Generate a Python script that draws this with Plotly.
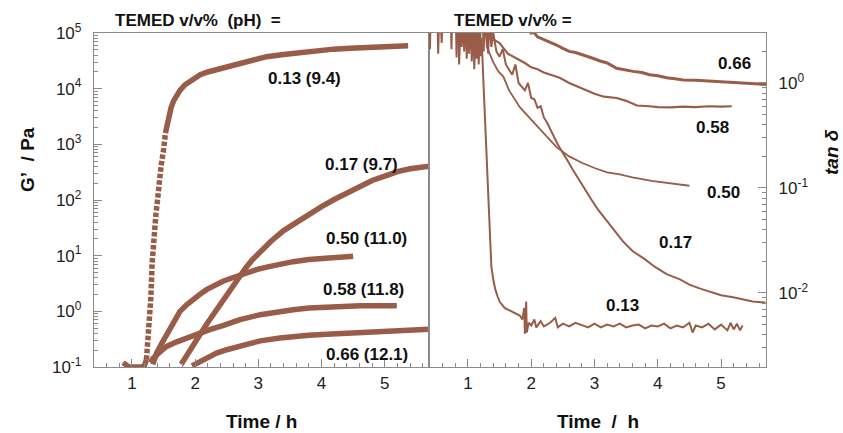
import plotly.graph_objects as go

# ---------------- data ----------------
# Left panel: storage modulus G' (Pa) vs time (h), one series per TEMED v/v% (pH)
t_g13 = [0.86, 0.95, 1.05, 1.15, 1.20, 1.23, 1.27, 1.30, 1.32, 1.35, 1.38, 1.41, 1.43, 1.46, 1.50,
         1.53, 1.585, 1.62, 1.66, 1.71, 1.76, 1.84, 1.92, 2.0, 2.08, 2.2, 2.3, 2.4, 2.6, 2.8,
         3.13, 3.4, 3.66, 3.9, 4.19, 4.45, 4.71, 5.0, 5.37]
g13 = [0.12, 0.10, 0.10, 0.10, 0.107, 0.135, 0.47, 1.8, 7.4, 25, 56, 112, 200, 398, 794,
       1585, 3160, 4570, 6030, 7760, 9330, 11750, 13800, 15850, 17800, 19950, 21400, 23400, 26900, 31600,
       37600, 41200, 44700, 47900, 51300, 53100, 55000, 56900, 58900]

t_g17 = [1.78, 1.90, 2.0, 2.1, 2.2, 2.3, 2.4, 2.5, 2.6, 2.7, 2.8, 2.9, 3.0, 3.2, 3.4, 3.6, 3.8,
         4.0, 4.2, 4.4, 4.6, 4.8, 5.0, 5.2, 5.4, 5.72]
g17 = [0.112, 0.19, 0.28, 0.42, 0.63, 0.93, 1.38, 2.0, 2.95, 4.27, 6.0, 8.3, 11.0, 18.2, 28.2, 39.8, 55,
       75.9, 102, 135, 178, 224, 269, 324, 363, 407]

t_g50 = [1.33, 1.39, 1.47, 1.55, 1.65, 1.76, 1.87, 1.97, 2.08, 2.18, 2.30, 2.44, 2.56, 2.66, 2.80,
         2.97, 3.15, 3.34, 3.55, 3.80, 4.08, 4.30, 4.50]
g50 = [0.112, 0.178, 0.263, 0.37, 0.63, 1.0, 1.32, 1.66, 2.04, 2.45, 2.95, 3.47, 3.89, 4.27, 4.9,
       5.6, 6.3, 7.1, 7.8, 8.5, 9.1, 9.4, 9.8]

t_g58 = [1.30, 1.33, 1.45, 1.55, 1.70, 1.86, 2.05, 2.23, 2.45, 2.71, 3.03, 3.34, 3.55, 3.80, 4.08,
         4.35, 4.61, 4.90, 5.19]
g58 = [0.12, 0.141, 0.19, 0.234, 0.28, 0.33, 0.40, 0.47, 0.56, 0.71, 0.87, 1.0, 1.07, 1.15, 1.20,
       1.23, 1.26, 1.26, 1.26]

t_g66 = [1.95, 2.05, 2.20, 2.34, 2.50, 2.71, 3.03, 3.34, 3.55, 3.80, 4.08, 4.35, 4.61, 4.90, 5.13,
         5.40, 5.72]
g66 = [0.105, 0.12, 0.148, 0.178, 0.204, 0.234, 0.295, 0.331, 0.355, 0.372, 0.389, 0.403, 0.417,
       0.431, 0.447, 0.462, 0.479]

# Right panel: tan delta vs time (h)
t_d13 = [0.38, 0.40, 0.41, 0.52, 0.53, 0.545, 0.57, 0.585, 0.60, 0.73, 0.74, 0.75, 0.81, 0.82, 0.83,
         0.85, 0.86, 0.875, 0.89, 0.90, 0.915, 0.93, 0.94, 0.955, 0.97, 0.98, 0.995, 1.01, 1.02, 1.035,
         1.05, 1.06, 1.075, 1.09, 1.10, 1.115, 1.13, 1.14, 1.155, 1.165, 1.17, 1.185, 1.195, 1.20,
         1.216, 1.25, 1.295, 1.32, 1.345, 1.37, 1.40, 1.43, 1.47, 1.505, 1.58, 1.66, 1.75, 1.82,
         1.86, 1.89, 1.90, 1.92, 1.93, 1.96, 2.00, 2.05, 2.08, 2.15, 2.20, 2.30, 2.38, 2.42, 2.50,
         2.60, 2.70, 2.80, 2.90, 3.00, 3.10, 3.20, 3.30, 3.40, 3.50, 3.60, 3.70, 3.80, 3.90, 4.00,
         4.10, 4.20, 4.30, 4.40, 4.50, 4.55, 4.60, 4.70, 4.80, 4.90, 5.00, 5.10, 5.15, 5.20, 5.25,
         5.30, 5.34]
d13 = [4.0, 2.1, 4.0, 4.0, 1.9, 4.0, 4.0, 2.4, 4.0, 4.0, 2.1, 4.0, 4.0, 1.75, 4.0,
       4.0, 1.5, 4.0, 4.0, 2.2, 4.0, 4.0, 2.0, 4.0, 4.0, 1.7, 4.0, 4.0, 1.9, 4.0,
       4.0, 1.6, 4.0, 4.0, 1.35, 4.0, 4.0, 1.7, 4.0, 4.0, 1.5, 4.0, 4.0, 1.8,
       2.7, 0.87, 0.195, 0.068, 0.032, 0.018, 0.0135, 0.011, 0.0092, 0.0082, 0.0072, 0.0068, 0.0063, 0.0061,
       0.0056, 0.0072, 0.0041, 0.0083, 0.0042, 0.0052, 0.0049, 0.0056, 0.0047, 0.0054, 0.0048, 0.0052, 0.0058, 0.0047, 0.0051,
       0.0048, 0.0052, 0.0049, 0.0047, 0.0051, 0.0047, 0.0050, 0.0048, 0.0051, 0.0047, 0.0049, 0.0050, 0.0046, 0.0049, 0.0048,
       0.0051, 0.0046, 0.0049, 0.0047, 0.0052, 0.0042, 0.0049, 0.0047, 0.0051, 0.0045, 0.0050, 0.0044, 0.0052, 0.0045, 0.0051,
       0.0044, 0.0049]

t_d17 = [1.28, 1.30, 1.32, 1.34, 1.37, 1.40, 1.45, 1.50, 1.55, 1.60, 1.70, 1.75, 1.80, 1.90, 1.95,
         2.00, 2.05, 2.10, 2.15, 2.20, 2.25, 2.30, 2.35, 2.42, 2.50, 2.58, 2.66, 2.75, 2.85, 2.95,
         3.05, 3.15, 3.30, 3.45, 3.60, 3.80, 3.95, 4.14, 4.35, 4.50, 4.67, 4.85, 5.00, 5.19, 5.35,
         5.50, 5.70]
d17 = [4.0, 4.0, 1.9, 4.0, 2.2, 3.0, 2.0, 1.78, 2.1, 1.5, 1.2, 1.5, 1.0, 0.85, 1.0,
       0.72, 0.70, 0.58, 0.60, 0.47, 0.42, 0.37, 0.316, 0.26, 0.219, 0.18, 0.148, 0.12, 0.0955, 0.0776,
       0.063, 0.0525, 0.0398, 0.031, 0.0251, 0.0209, 0.0178, 0.0151, 0.0135, 0.0120, 0.0110, 0.0102, 0.0095, 0.0091, 0.0087,
       0.0083, 0.0081]

t_d50 = [1.20, 1.23, 1.25, 1.27, 1.30, 1.40, 1.48, 1.56, 1.65, 1.82, 2.00, 2.20, 2.40, 2.60, 2.80,
         3.00, 3.20, 3.40, 3.60, 3.90, 4.20, 4.50]
d50 = [4.0, 4.0, 2.0, 4.0, 2.2, 1.58, 1.29, 1.15, 0.85, 0.589, 0.447, 0.331, 0.245, 0.20, 0.174,
       0.155, 0.141, 0.135, 0.126, 0.117, 0.111, 0.105]

t_d58 = [1.26, 1.28, 1.31, 1.33, 1.40, 1.50, 1.63, 1.72, 1.80, 1.90, 2.00, 2.10, 2.20, 2.30, 2.45,
         2.60, 2.80, 3.00, 3.15, 3.35, 3.50, 3.67, 3.87, 4.00, 4.20, 4.40, 4.60, 4.80, 5.00, 5.17]
d58 = [4.0, 4.0, 2.3, 4.0, 2.6, 2.4, 1.9, 1.78, 1.66, 1.55, 1.41, 1.35, 1.26, 1.20, 1.12,
       1.0, 0.89, 0.79, 0.74, 0.72, 0.676, 0.61, 0.60, 0.59, 0.585, 0.595, 0.59, 0.60, 0.595, 0.60]

t_d66 = [1.90, 1.95, 1.98, 2.00, 2.03, 2.05, 2.10, 2.20, 2.30, 2.40, 2.50, 2.60, 2.70, 2.82, 2.95,
         3.09, 3.20, 3.35, 3.50, 3.61, 3.75, 3.87, 4.00, 4.14, 4.30, 4.40, 4.60, 4.80, 4.93, 5.10,
         5.30, 5.45, 5.60, 5.71]
d66 = [4.0, 3.2, 4.0, 2.9, 4.0, 3.0, 2.75, 2.6, 2.45, 2.3, 2.14, 2.0, 1.95, 1.86, 1.74,
       1.62, 1.55, 1.38, 1.32, 1.29, 1.26, 1.20, 1.17, 1.12, 1.09, 1.07, 1.06, 1.045, 1.04, 1.03,
       1.01, 1.0, 0.98, 0.965]

# tick labels
x_ticks = [1, 2, 3, 4, 5]
g_ticks = [0.1, 1, 10, 100, 1000, 10000, 100000]
g_ticktext = ["10<sup>-1</sup>", "10<sup>0</sup>", "10<sup>1</sup>", "10<sup>2</sup>",
              "10<sup>3</sup>", "10<sup>4</sup>", "10<sup>5</sup>"]
d_ticks = [0.01, 0.1, 1]
d_ticktext = ["10<sup>-2</sup>", "10<sup>-1</sup>", "10<sup>0</sup>"]

# text labels
left_labels = ["0.13 (9.4)", "0.17 (9.7)", "0.50 (11.0)", "0.58 (11.8)", "0.66 (12.1)"]
right_labels = ["0.66", "0.58", "0.50", "0.17", "0.13"]

# ---------------- styling / layout ----------------
W, H = 843, 433
ML, MR, MT, MB = 94, 77, 33, 66
PW, PH = W - ML - MR, H - MT - MB
SPLIT = 335 / PW
COL = "#985C48"
AX = "#8a8a8a"
FONT = "Liberation Sans, Arial, sans-serif"


def px(xp):
    return (xp - ML) / PW


def py(yp):
    return (H - MB - yp) / PH


fig = go.Figure()

# left panel traces (thick dotted-looking curves)
LW = 5.5
fig.add_trace(go.Scatter(x=t_g13[:6], y=g13[:6], mode="lines", line=dict(color=COL, width=LW),
                         xaxis="x", yaxis="y", hoverinfo="skip"))
fig.add_trace(go.Scatter(x=t_g13[5:16], y=g13[5:16], mode="lines",
                         line=dict(color=COL, width=LW, dash="4.5px,2px"),
                         xaxis="x", yaxis="y", hoverinfo="skip"))
fig.add_trace(go.Scatter(x=t_g13[15:], y=g13[15:], mode="lines", line=dict(color=COL, width=LW),
                         xaxis="x", yaxis="y", hoverinfo="skip"))
for tx, gy in [(t_g17, g17), (t_g50, g50), (t_g58, g58), (t_g66, g66)]:
    fig.add_trace(go.Scatter(x=tx, y=gy, mode="lines", line=dict(color=COL, width=LW),
                             xaxis="x", yaxis="y", hoverinfo="skip"))

# right panel traces (thin noisy lines)
for tx, dy, w in [(t_d13, d13, 2.0), (t_d17, d17, 2.0), (t_d50, d50, 1.8),
                  (t_d58, d58, 2.2), (t_d66, d66, 3.0)]:
    fig.add_trace(go.Scatter(x=tx, y=dy, mode="lines", line=dict(color=COL, width=w),
                             xaxis="x2", yaxis="y2", hoverinfo="skip"))

minor_g = [m * 10 ** e for e in range(-1, 5) for m in range(2, 10)]
minor_d = [m * 10 ** e for e in range(-3, 1) for m in range(2, 10)]

xcommon = dict(tickmode="array", tickvals=x_ticks, ticks="inside", ticklen=8, tickwidth=1.2,
               tickcolor=AX, showline=True, linecolor=AX, linewidth=1.3, mirror=True,
               showgrid=False, zeroline=False, automargin=False,
               tickfont=dict(family=FONT, size=17, color="#222"),
               minor=dict(dtick=0.2, tick0=0, ticks="inside", ticklen=4, tickcolor=AX, tickwidth=1,
                          showgrid=False))

fig.update_layout(
    width=W, height=H, margin=dict(l=ML, r=MR, t=MT, b=MB, autoexpand=False),
    paper_bgcolor="white", plot_bgcolor="white", showlegend=False,
    xaxis=dict(domain=[0, SPLIT], range=[0.4, 5.7], anchor="y", **xcommon),
    xaxis2=dict(domain=[SPLIT, 1], range=[0.385, 5.71], anchor="y2", **xcommon),
    yaxis=dict(type="log", range=[-1, 5], anchor="x", tickmode="array", tickvals=g_ticks,
               ticktext=g_ticktext, ticks="inside", ticklen=8, tickwidth=1.2, tickcolor=AX,
               showline=True, linecolor=AX, linewidth=1.3, mirror=True, showgrid=False,
               zeroline=False, ticklabelstandoff=8, automargin=False,
               tickfont=dict(family=FONT, size=17, color="#222"),
               minor=dict(tickmode="array", tickvals=minor_g, ticks="inside", ticklen=4,
                          tickcolor=AX, tickwidth=1, showgrid=False)),
    yaxis2=dict(type="log", range=[-2.705, 0.476], anchor="x2", side="right", tickmode="array",
                tickvals=d_ticks, ticktext=d_ticktext, ticks="inside", ticklen=8, tickwidth=1.2,
                tickcolor=AX, showline=True, linecolor=AX, linewidth=1.3, mirror=True,
                showgrid=False, zeroline=False, ticklabelstandoff=8, automargin=False,
                tickfont=dict(family=FONT, size=17, color="#222"),
                minor=dict(tickmode="array", tickvals=minor_d, ticks="inside", ticklen=4,
                           tickcolor=AX, tickwidth=1, showgrid=False)),
)

ann = []
bold17 = dict(family=FONT, size=17, color="#111")
bold19 = dict(family=FONT, size=19, color="#111")
NB = "\u00a0"


def add_text(text, xp, yp, font, angle=0):
    ann.append(dict(text=text, x=px(xp), y=py(yp), xref="paper", yref="paper",
                    showarrow=False, xanchor="center", yanchor="middle", font=font,
                    textangle=angle))


add_text("<b>TEMED v/v%" + NB * 2 + "(pH)" + NB * 2 + "=</b>", 198, 21, bold17)
add_text("<b>TEMED v/v% =</b>", 513, 21, bold17)
for lab, (xp, yp) in zip(left_labels, [(304, 78), (361, 164), (366, 238), (363, 289), (367, 354)]):
    add_text("<b>" + lab + "</b>", xp, yp, bold17)
for lab, (xp, yp) in zip(right_labels, [(734, 63), (712, 128), (723, 192), (675, 242), (622, 305)]):
    add_text("<b>" + lab + "</b>", xp, yp, bold17)

add_text("<b>Time / h</b>", 261, 421, bold19)
add_text("<b>Time" + NB + " /" + NB + " h</b>", 598, 421, bold19)
add_text("<b>G’" + NB + " / Pa</b>", 27, 160, bold19, angle=-90)
add_text("<b><i>tan δ</i></b>", 831, 152, bold19, angle=-90)

fig.update_layout(annotations=ann)
fig.write_html("out.html", config={"displayModeBar": False},
               post_script="document.body.style.margin='0';document.body.style.overflow='hidden';")
